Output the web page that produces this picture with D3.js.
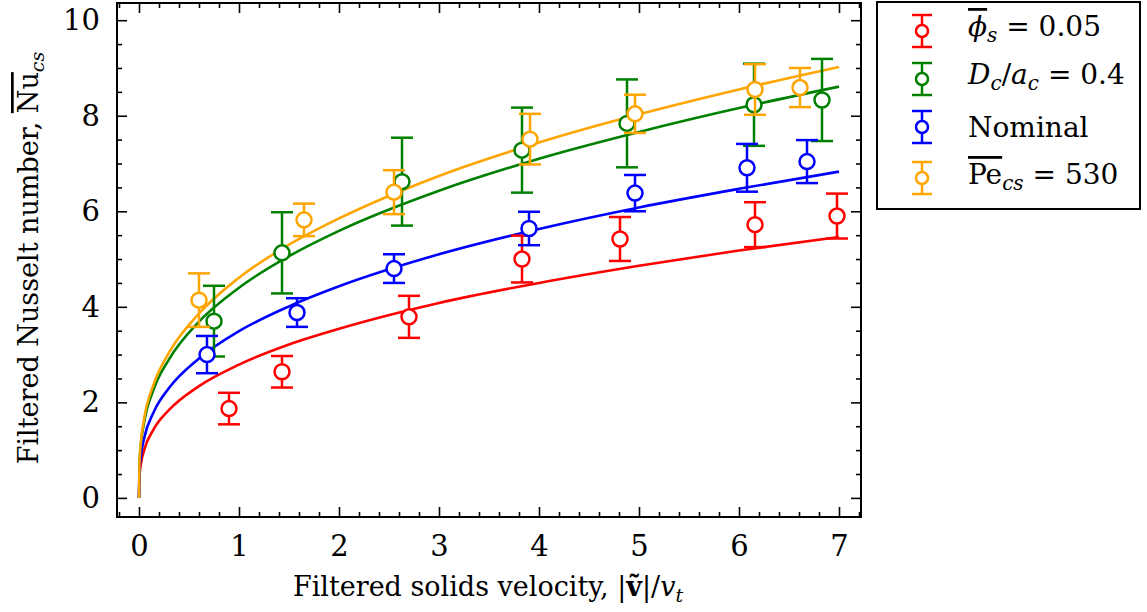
<!DOCTYPE html>
<html>
<head>
<meta charset="utf-8">
<script src="https://cdn.jsdelivr.net/npm/d3@7.9.0/dist/d3.min.js"></script>
<style>
  body { margin: 0; background: #fff; }
  svg text { font-family: "DejaVu Serif", serif; fill: #000; }
  .tick line { stroke: #000; stroke-width: 1.6; }
</style>
</head>
<body>
<svg id="chart" width="1147" height="612"></svg>
<script>
// series: x, mean and half error bar
const seriesKeys = ['phi', 'dc', 'nominal', 'pe'];
const seriesColors = ['#ff0000', '#008000', '#0000ff', '#ffa500'];

const phiX = [0.90, 1.43, 2.70, 3.83, 4.81, 6.16, 6.98];
const phiY = [1.87, 2.64, 3.79, 5.00, 5.42, 5.72, 5.90];
const phiErr = [0.33, 0.33, 0.44, 0.49, 0.46, 0.47, 0.47];

const dcX = [0.75, 1.43, 2.63, 3.83, 4.88, 6.15, 6.83];
const dcY = [3.70, 5.13, 6.62, 7.28, 7.84, 8.23, 8.33];
const dcErr = [0.74, 0.85, 0.92, 0.89, 0.92, 0.86, 0.86];

const nomX = [0.68, 1.58, 2.55, 3.90, 4.96, 6.08, 6.68];
const nomY = [3.00, 3.88, 4.80, 5.64, 6.38, 6.91, 7.04];
const nomErr = [0.39, 0.30, 0.30, 0.35, 0.38, 0.50, 0.45];

const peX = [0.60, 1.65, 2.55, 3.91, 4.96, 6.16, 6.61];
const peY = [4.14, 5.82, 6.40, 7.51, 8.04, 8.55, 8.59];
const peErr = [0.56, 0.34, 0.46, 0.53, 0.40, 0.53, 0.41];

// fitted curves
const fitX = [0, 0.005, 0.02, 0.05, 0.15, 0.3, 0.6, 1, 1.5, 2, 3, 4, 5, 6, 7];
const fitPhi = [0, 0.45, 0.72, 0.99, 1.45, 1.84, 2.34, 2.79, 3.21, 3.54, 4.08, 4.50, 4.86, 5.18, 5.46];
const fitDc = [0, 0.71, 1.14, 1.57, 2.29, 2.90, 3.69, 4.40, 5.06, 5.59, 6.43, 7.10, 7.66, 8.16, 8.61];
const fitNom = [0, 0.56, 0.90, 1.24, 1.81, 2.30, 2.92, 3.49, 4.01, 4.43, 5.10, 5.63, 6.08, 6.47, 6.83];
const fitPe = [0, 0.74, 1.19, 1.64, 2.40, 3.04, 3.86, 4.61, 5.30, 5.85, 6.74, 7.44, 8.03, 8.55, 9.02];

const xMajor = [0, 1, 2, 3, 4, 5, 6, 7];
const yMajor = [0, 2, 4, 6, 8, 10];

const points = [
  { x: phiX, y: phiY, e: phiErr },
  { x: dcX, y: dcY, e: dcErr },
  { x: nomX, y: nomY, e: nomErr },
  { x: peX, y: peY, e: peErr },
];
const fits = [fitPhi, fitDc, fitNom, fitPe];

const plotLeft = 117, plotRight = 861, plotTop = 3, plotBottom = 517;
const x = d3.scaleLinear().domain([-0.22, 7.22]).range([plotLeft, plotRight]);
const y = d3.scaleLinear().domain([-0.40, 10.36]).range([plotBottom, plotTop]);

const svg = d3.select('#chart');

// frame ticks on all four sides, pointing inward
const xMinor = d3.range(-0.2, 7.21, 0.2).filter(v => Math.abs(v - Math.round(v)) > 0.01);
const yMinor = d3.range(0, 10.01, 0.5).filter(v => Math.abs(v / 2 - Math.round(v / 2)) > 0.01);

function addAxis(axis, tx, ty) {
  const g = svg.append('g').attr('transform', `translate(${tx},${ty})`).call(axis);
  g.select('.domain').remove();
  g.attr('font-family', null).attr('font-size', null);
  return g;
}

const bottomAxis = addAxis(d3.axisBottom(x).tickValues(xMajor).tickSize(-10).tickPadding(18).tickFormat(d3.format('d')), 0, plotBottom);
addAxis(d3.axisBottom(x).tickValues(xMinor).tickSize(-5).tickFormat(''), 0, plotBottom);
addAxis(d3.axisTop(x).tickValues(xMajor).tickSize(-10).tickFormat(''), 0, plotTop);
addAxis(d3.axisTop(x).tickValues(xMinor).tickSize(-5).tickFormat(''), 0, plotTop);

const leftAxis = addAxis(d3.axisLeft(y).tickValues(yMajor).tickSize(-10).tickPadding(17).tickFormat(d3.format('d')), plotLeft, 0);
addAxis(d3.axisLeft(y).tickValues(yMinor).tickSize(-5).tickFormat(''), plotLeft, 0);
addAxis(d3.axisRight(y).tickValues(yMajor).tickSize(-10).tickFormat(''), plotRight, 0);
addAxis(d3.axisRight(y).tickValues(yMinor).tickSize(-5).tickFormat(''), plotRight, 0);

bottomAxis.selectAll('text').attr('font-size', 29);
leftAxis.selectAll('text').attr('font-size', 29);

svg.append('rect')
  .attr('x', plotLeft).attr('y', plotTop)
  .attr('width', plotRight - plotLeft).attr('height', plotBottom - plotTop)
  .attr('fill', 'none').attr('stroke', '#000').attr('stroke-width', 2);

// fit lines first, markers on top
const line = d3.line()
  .x((d, i) => x(fitX[i]))
  .y(d => y(d))
  .curve(d3.curveMonotoneX);

fits.forEach((f, idx) => {
  svg.append('path')
    .attr('d', line(f))
    .attr('fill', 'none')
    .attr('stroke', seriesColors[idx])
    .attr('stroke-width', 2.6);
});

points.forEach((s, idx) => {
  const col = seriesColors[idx];
  const g = svg.append('g').attr('class', seriesKeys[idx])
    .attr('stroke', col).attr('stroke-width', 2.5).attr('fill', 'none');
  s.x.forEach((xv, i) => {
    const cx = x(xv), y1 = y(s.y[i] + s.e[i]), y0 = y(s.y[i] - s.e[i]);
    g.append('line').attr('x1', cx).attr('x2', cx).attr('y1', y1).attr('y2', y0);
    g.append('line').attr('x1', cx - 11).attr('x2', cx + 11).attr('y1', y1).attr('y2', y1);
    g.append('line').attr('x1', cx - 11).attr('x2', cx + 11).attr('y1', y0).attr('y2', y0);
    g.append('circle').attr('cx', cx).attr('cy', y(s.y[i])).attr('r', 7.5).attr('fill', '#fff');
  });
});

// axis titles
svg.append('text')
  .attr('x', (plotLeft + plotRight) / 2 - 1).attr('y', 596)
  .attr('text-anchor', 'middle').attr('font-size', 27)
  .html('Filtered solids velocity, |<tspan font-weight="bold">ṽ</tspan>|/<tspan font-style="italic">v</tspan><tspan font-style="italic" font-size="19" dy="6">t</tspan>');

svg.append('text')
  .attr('transform', 'translate(38,258) rotate(-90)')
  .attr('text-anchor', 'middle').attr('font-size', 27)
  .html('Filtered Nusselt number, <tspan style="text-decoration:overline">Nu</tspan><tspan font-style="italic" font-size="19" dy="6">cs</tspan>');

// legend
svg.append('rect')
  .attr('x', 877).attr('y', 2).attr('width', 263).attr('height', 207)
  .attr('fill', '#fff').attr('stroke', '#000').attr('stroke-width', 2);

const legendLabels = [
  '<tspan font-style="italic" style="text-decoration:overline">ϕ</tspan><tspan font-style="italic" font-size="20" dy="6">s</tspan><tspan dy="-6"> = 0.05</tspan>',
  '<tspan font-style="italic">D</tspan><tspan font-style="italic" font-size="20" dy="6">c</tspan><tspan dy="-6">/</tspan><tspan font-style="italic">a</tspan><tspan font-style="italic" font-size="20" dy="6">c</tspan><tspan dy="-6"> = 0.4</tspan>',
  'Nominal',
  '<tspan style="text-decoration:overline">Pe</tspan><tspan font-style="italic" font-size="20" dy="6">cs</tspan><tspan dy="-6"> = 530</tspan>',
];
const legendRows = [31, 79, 127, 178];
const legendBase = [36, 84, 137, 184];

legendLabels.forEach((lab, idx) => {
  const cy = legendRows[idx], col = seriesColors[idx];
  const g = svg.append('g').attr('stroke', col).attr('stroke-width', 2.5).attr('fill', 'none');
  g.append('line').attr('x1', 922).attr('x2', 922).attr('y1', cy - 16).attr('y2', cy + 16);
  g.append('line').attr('x1', 912).attr('x2', 932).attr('y1', cy - 16).attr('y2', cy - 16);
  g.append('line').attr('x1', 912).attr('x2', 932).attr('y1', cy + 16).attr('y2', cy + 16);
  g.append('circle').attr('cx', 922).attr('cy', cy).attr('r', 6).attr('fill', '#fff');
  svg.append('text').attr('x', 968).attr('y', legendBase[idx]).attr('font-size', 28).html(lab);
});
</script>
</body>
</html>
